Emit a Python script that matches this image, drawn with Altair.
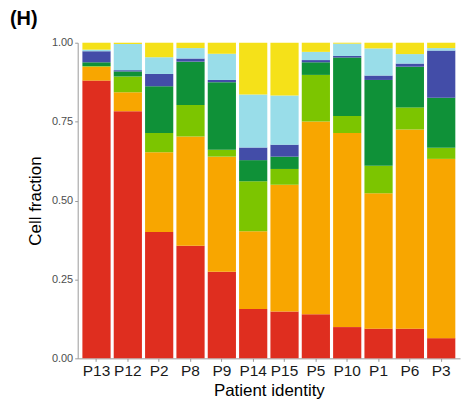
import altair as alt
import pandas as pd

patients = ["P13", "P12", "P2", "P8", "P9", "P14", "P15", "P5", "P10", "P1", "P6", "P3"]
cell_types = ["Type 1", "Type 2", "Type 3", "Type 4", "Type 5", "Type 6", "Type 7"]
colors = ["#DF2E1F", "#F8A600", "#7CC500", "#0F9138", "#434DA8", "#99DDE9", "#F5E119"]

type1 = [0.880, 0.783, 0.400, 0.357, 0.274, 0.156, 0.148, 0.140, 0.099, 0.094, 0.094, 0.064]
type2 = [0.044, 0.060, 0.253, 0.346, 0.365, 0.247, 0.402, 0.610, 0.615, 0.429, 0.631, 0.568]
type3 = [0.002, 0.050, 0.061, 0.100, 0.022, 0.158, 0.050, 0.148, 0.054, 0.087, 0.070, 0.035]
type4 = [0.012, 0.016, 0.148, 0.137, 0.214, 0.067, 0.039, 0.040, 0.185, 0.272, 0.129, 0.159]
type5 = [0.035, 0.004, 0.039, 0.010, 0.007, 0.040, 0.038, 0.007, 0.005, 0.014, 0.010, 0.149]
type6 = [0.005, 0.083, 0.053, 0.033, 0.083, 0.168, 0.156, 0.026, 0.039, 0.086, 0.030, 0.008]
type7 = [0.022, 0.004, 0.046, 0.017, 0.035, 0.164, 0.167, 0.029, 0.003, 0.018, 0.036, 0.017]

series = [type1, type2, type3, type4, type5, type6, type7]
rows = []
for k, (ct, vals) in enumerate(zip(cell_types, series)):
    for p, v in zip(patients, vals):
        rows.append({"patient": p, "cell_type": ct, "fraction": v, "order": k})
df = pd.DataFrame(rows)

font = "Liberation Sans"

chart = alt.Chart(df).mark_bar().encode(
    x=alt.X("patient:N", sort=patients, title="Patient identity",
            scale=alt.Scale(paddingInner=0.1, paddingOuter=0.15),
            axis=alt.Axis(labelAngle=0, labelFontSize=15.5, labelColor="#1a1a1a",
                          titleFontSize=17, titleFontWeight="normal", titleColor="#000000",
                          tickSize=3, labelPadding=2, titlePadding=4,
                          domainColor="#999999", tickColor="#999999")),
    y=alt.Y("fraction:Q", stack="zero", title="Cell fraction",
            scale=alt.Scale(domain=[0, 1], nice=False),
            axis=alt.Axis(values=[0, 0.25, 0.5, 0.75, 1.0], format=".2f",
                          labelFontSize=11, labelColor="#4D4D4D",
                          titleFontSize=17, titleFontWeight="normal", titleColor="#000000",
                          tickSize=3, labelPadding=2, titlePadding=7,
                          domainColor="#999999", tickColor="#999999")),
    color=alt.Color("cell_type:N", scale=alt.Scale(domain=cell_types, range=colors), legend=None),
    order=alt.Order("order:Q", sort="ascending"),
).properties(
    width=384, height=317,
    title=alt.TitleParams("(H)", anchor="start", frame="group", dx=-68, dy=-4,
                          fontSize=20, fontWeight="bold", font=font, color="#000000"),
    padding={"left": 70, "top": 34, "right": 5, "bottom": 45},
    autosize="none",
).configure_view(stroke=None).configure_axis(grid=False, labelFont=font, titleFont=font)

chart.save("out.html", embed_options={"renderer": "svg", "actions": False})
